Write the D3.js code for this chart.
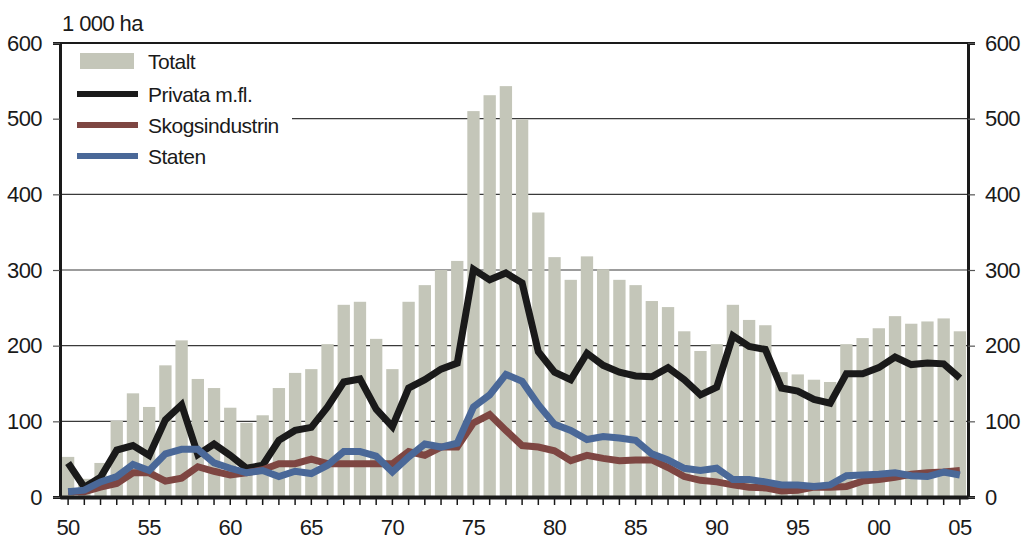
<!DOCTYPE html>
<html>
<head>
<meta charset="utf-8">
<script src="https://cdn.jsdelivr.net/npm/d3@7"></script>
<style>
  body { margin: 0; background: #fff; }
  svg text { font-family: "Liberation Sans", Arial, sans-serif; fill: #1a1a1a; }
</style>
</head>
<body>
<svg id="chart" width="1022" height="541"></svg>
<script>
var years = d3.range(1950, 2006);
var tickYears = [1950, 1955, 1960, 1965, 1970, 1975, 1980, 1985, 1990, 1995, 2000, 2005];
var tickLabels = ["50", "55", "60", "65", "70", "75", "80", "85", "90", "95", "00", "05"];
var yTicks = [0, 100, 200, 300, 400, 500, 600];
var seriesNames = ["Totalt", "Privata m.fl.", "Skogsindustrin", "Staten"];

// 1 000 ha per year
var totalt = [53, 24, 45, 101, 137, 119, 174, 207, 156, 144,
              118, 98, 108, 144, 164, 169, 202, 254, 258, 209,
              169, 258, 280, 300, 312, 510, 531, 543, 499, 376,
              317, 287, 318, 301, 287, 280, 259, 251, 219, 193,
              202, 254, 234, 227, 165, 162, 155, 152, 202, 210,
              223, 239, 229, 232, 236, 219];
var privata = [45, 13, 26, 62, 68, 55, 102, 122, 56, 70,
               55, 38, 42, 75, 88, 92, 119, 152, 156, 116,
               93, 144, 155, 169, 177, 301, 287, 296, 283, 192,
               165, 155, 190, 174, 165, 160, 159, 171, 155, 135,
               145, 213, 199, 195, 144, 140, 129, 124, 163, 163,
               171, 185, 175, 177, 176, 157];
var skogs = [7, 7, 13, 18, 32, 32, 21, 25, 40, 34,
             29, 32, 36, 44, 44, 50, 44, 44, 44, 44,
             44, 60, 55, 66, 66, 98, 109, 88, 68, 66,
             61, 48, 55, 51, 48, 49, 49, 39, 27, 22,
             20, 16, 13, 12, 8, 9, 13, 13, 14, 21,
             23, 26, 30, 32, 33, 35];
var staten = [7, 9, 20, 27, 43, 35, 57, 63, 63, 45,
              38, 32, 35, 27, 34, 31, 42, 60, 60, 54,
              33, 53, 70, 66, 71, 119, 135, 162, 153, 122,
              96, 88, 76, 80, 78, 75, 57, 49, 38, 35,
              38, 23, 23, 20, 16, 16, 14, 16, 28, 29,
              30, 32, 28, 27, 33, 29];

var colors = { bar: "#c4c6b9", privata: "#1a1a1a", skogs: "#7e4642", staten: "#4a6898" };

var svg = d3.select("#chart");
var mLeft = 60, mRight = 968, mTop = 43, mBottom = 497;

var x = d3.scaleBand().domain(years).range([mLeft, mRight]).paddingInner(0.24).paddingOuter(0.12);
var y = d3.scaleLinear().domain([0, 600]).range([mBottom, mTop]);
var cx = function(yr) { return x(yr) + x.bandwidth() / 2; };

// gridlines
svg.append("g").selectAll("line").data(yTicks.filter(function(d) { return d > 0 && d < 600; }))
  .enter().append("line")
  .attr("x1", mLeft).attr("x2", mRight)
  .attr("y1", function(d) { return y(d); }).attr("y2", function(d) { return y(d); })
  .attr("stroke", "#3a3a3a").attr("stroke-width", 1.2);

// bars
svg.append("g").selectAll("rect").data(years).enter().append("rect")
  .attr("x", function(d) { return x(d); })
  .attr("width", x.bandwidth())
  .attr("y", function(d, i) { return y(totalt[i]); })
  .attr("height", function(d, i) { return y(0) - y(totalt[i]); })
  .attr("fill", colors.bar);

// lines
var line = d3.line().x(function(d, i) { return cx(years[i]); }).y(function(d) { return y(d); });
[[privata, colors.privata], [skogs, colors.skogs], [staten, colors.staten]].forEach(function(s) {
  svg.append("path").datum(s[0])
    .attr("d", line)
    .attr("fill", "none")
    .attr("stroke", s[1])
    .attr("stroke-width", 7)
    .attr("stroke-linejoin", "miter");
});

// frame
svg.append("line").attr("x1", mLeft).attr("x2", mRight).attr("y1", mTop).attr("y2", mTop)
  .attr("stroke", "#1a1a1a").attr("stroke-width", 2);

// y axes
var yl = svg.append("g").attr("transform", "translate(" + mLeft + ",0)")
  .call(d3.axisLeft(y).tickValues(yTicks).tickSize(7).tickPadding(11).tickFormat(d3.format("d")));
var yr = svg.append("g").attr("transform", "translate(" + mRight + ",0)")
  .call(d3.axisRight(y).tickValues(yTicks).tickSize(7).tickPadding(10).tickFormat(d3.format("d")));
[yl, yr].forEach(function(g) {
  g.select(".domain").attr("stroke", "#1a1a1a").attr("stroke-width", 3);
  g.selectAll(".tick line").attr("stroke", "#555").attr("stroke-width", 1.2);
  g.selectAll(".tick text").attr("font-size", 22).attr("fill", "#1a1a1a").attr("letter-spacing", -0.6)
    .style("font-family", "'Liberation Sans', Arial, sans-serif");
});

// x axis
var xa = svg.append("g").attr("transform", "translate(0," + mBottom + ")")
  .call(d3.axisBottom(x).tickValues(years).tickSize(8).tickSizeOuter(0).tickPadding(14)
    .tickFormat(function(d) { var k = tickYears.indexOf(d); return k >= 0 ? tickLabels[k] : ""; }));
xa.select(".domain").attr("stroke", "#1a1a1a").attr("stroke-width", 4);
xa.selectAll(".tick line").attr("stroke", "#1a1a1a").attr("stroke-width", 1.5);
xa.selectAll(".tick text").attr("font-size", 22).attr("fill", "#1a1a1a").attr("letter-spacing", -0.6)
  .style("font-family", "'Liberation Sans', Arial, sans-serif");

// unit label
svg.append("text").attr("x", 62).attr("y", 31).attr("font-size", 22).attr("letter-spacing", -0.6).text("1 000 ha");

// legend
var lg = svg.append("g");
lg.append("rect").attr("x", mLeft + 2).attr("y", 46).attr("width", 230).attr("height", 134).attr("fill", "#fff");
var legRows = [
  { name: seriesNames[0], color: colors.bar, type: "bar", yy: 61 },
  { name: seriesNames[1], color: colors.privata, type: "line", yy: 94 },
  { name: seriesNames[2], color: colors.skogs, type: "line", yy: 125 },
  { name: seriesNames[3], color: colors.staten, type: "line", yy: 156 }
];
legRows.forEach(function(r) {
  if (r.type === "bar") {
    lg.append("rect").attr("x", 80).attr("y", r.yy - 8).attr("width", 54).attr("height", 16).attr("fill", r.color);
  } else {
    lg.append("line").attr("x1", 77).attr("x2", 138).attr("y1", r.yy).attr("y2", r.yy)
      .attr("stroke", r.color).attr("stroke-width", 6);
  }
  lg.append("text").attr("x", 148).attr("y", r.yy + 8).attr("font-size", 21).attr("letter-spacing", -0.5).text(r.name);
});
</script>
</body>
</html>
